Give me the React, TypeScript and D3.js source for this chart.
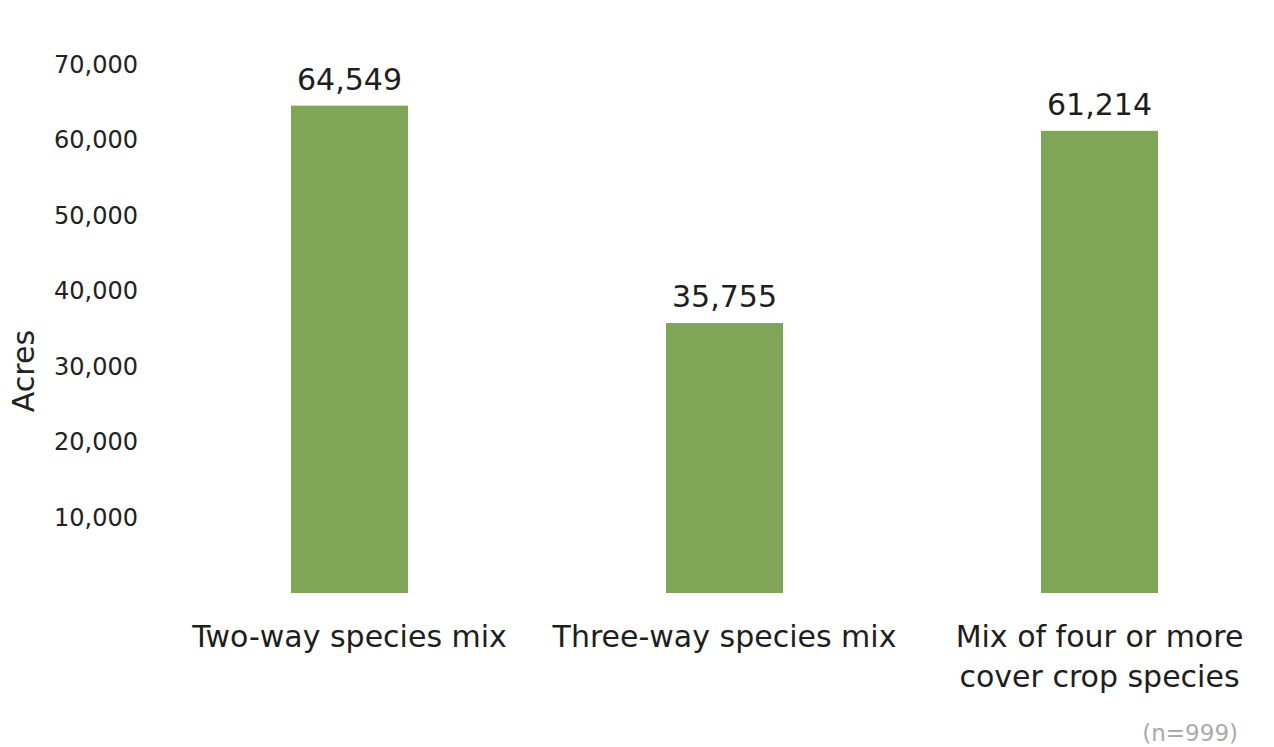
import React from "react";
import * as d3 from "d3";

const categories: string[][] = [
  ["Two-way species mix"],
  ["Three-way species mix"],
  ["Mix of four or more", "cover crop species"],
];
const categoryKeys = ["two", "three", "four"];
const values = [64549, 35755, 61214];
const yTicks = [10000, 20000, 30000, 40000, 50000, 60000, 70000];
const yLabel = "Acres";
const note = "(n=999)";

const W = 1274;
const H = 747;
const FONT = "'DejaVu Sans', sans-serif";

export default function App() {
  const x = d3
    .scaleBand<string>()
    .domain(categoryKeys)
    .range([162, 1287])
    .paddingInner(0.688)
    .paddingOuter(0.344);
  const y = d3.scaleLinear().domain([0, 70000]).range([593, 64.5]);
  const fmt = d3.format(",");

  return (
    <svg
      width={W}
      height={H}
      style={{ position: "absolute", left: 0, top: 0, background: "#fff" }}
      fontFamily={FONT}
    >
      {yTicks.map((t) => (
        <text
          key={t}
          x={138}
          y={y(t)}
          textAnchor="end"
          dominantBaseline="central"
          fontSize={24}
          fill="#222"
        >
          {fmt(t)}
        </text>
      ))}
      <text
        transform={`translate(34,371) rotate(-90)`}
        textAnchor="middle"
        fontSize={30}
        fill="#222"
      >
        {yLabel}
      </text>
      {categoryKeys.map((k, i) => {
        const x0 = x(k)!;
        const cx = x0 + x.bandwidth() / 2;
        return (
          <g key={k}>
            <rect
              x={x0}
              y={y(values[i])}
              width={x.bandwidth()}
              height={y(0) - y(values[i])}
              fill="#7fa556"
            />
            <text
              x={cx}
              y={y(values[i]) - 16}
              textAnchor="middle"
              fontSize={30}
              fill="#1e1e1e"
            >
              {fmt(values[i])}
            </text>
            {categories[i].map((line, j) => (
              <text
                key={j}
                x={cx}
                y={647 + j * 40}
                textAnchor="middle"
                fontSize={30}
                fill="#1e1e1e"
              >
                {line}
              </text>
            ))}
          </g>
        );
      })}
      <text x={1238} y={741} textAnchor="end" fontSize={23} fill="#aaa">
        {note}
      </text>
    </svg>
  );
}
